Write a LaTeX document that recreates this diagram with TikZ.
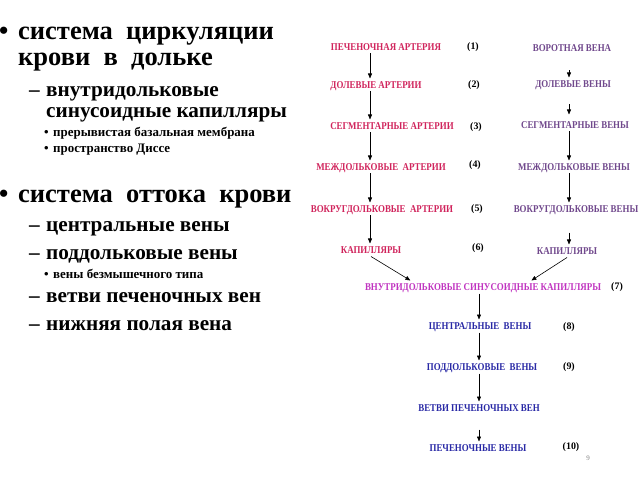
\documentclass[tikz,border=0pt]{standalone}
\usepackage{fontspec}
\setmainfont{Liberation Serif}
\newfontfamily\diagfont[FakeStretch=0.85]{Liberation Serif}
\usetikzlibrary{arrows.meta,calc}
\definecolor{artc}{RGB}{208,36,92}
\definecolor{venc}{RGB}{112,72,140}
\definecolor{sinc}{RGB}{192,52,192}
\definecolor{outc}{RGB}{40,40,165}
\begin{document}
\begin{tikzpicture}[x=1bp,y=-1bp,
  big/.style={anchor=base west,inner sep=0,font=\fontsize{26.6}{26.6}\selectfont\bfseries},
  mid/.style={anchor=base west,inner sep=0,font=\fontsize{21.3}{21.3}\selectfont\bfseries},
  sml/.style={anchor=base west,inner sep=0,font=\fontsize{13}{13}\selectfont\bfseries},
  lab/.style={inner sep=0,outer sep=3bp,text height=7bp,text depth=0bp,font=\diagfont\fontsize{10.5}{10.5}\selectfont\bfseries},
  num/.style={inner sep=0,font=\fontsize{10}{10}\selectfont\bfseries},
  arr/.style={draw=black,line width=0.6bp,-{Triangle[length=5bp,width=4bp]}}]
\useasboundingbox (0,0) rectangle (640,480);
% left text
\node[big] (b1) at (-1,40) {•};
\node[big] (t1) at (18,40) {система\ \ циркуляции};
\node[big] (t2) at (18,66) {крови\ \ в\ \ дольке};
\node[mid] (d1) at (29,97) {–};
\node[mid] (t3) at (46,97) {внутридольковые};
\node[mid] (t4) at (46,118) {синусоидные капилляры};
\node[sml] (s1) at (44,137) {•};
\node[sml] (t5) at (53,137) {прерывистая базальная мембрана};
\node[sml] (s2) at (44,153) {•};
\node[sml] (t6) at (53,153) {пространство Диссе};
\node[big] (b2) at (-1,203) {•};
\node[big] (t7) at (18,203) {система\ \ оттока\ \ крови};
\node[mid] (d2) at (29,232) {–};
\node[mid] (t8) at (46,232) {центральные вены};
\node[mid] (d3) at (29,259) {–};
\node[mid] (t9) at (46,259) {поддольковые вены};
\node[sml] (s3) at (44,278) {•};
\node[sml] (t10) at (53,278) {вены безмышечного типа};
\node[mid] (d4) at (29,302) {–};
\node[mid] (t11) at (46,302) {ветви печеночных вен};
\node[mid] (d5) at (29,330) {–};
\node[mid] (t12) at (46,330) {нижняя полая вена};
% diagram: left column
\node[lab,text=artc] (a1) at (386,47) {ПЕЧЕНОЧНАЯ АРТЕРИЯ};
\node[lab,text=artc] (a2) at (376,85) {ДОЛЕВЫЕ АРТЕРИИ};
\node[lab,text=artc] (a3) at (392,126) {СЕГМЕНТАРНЫЕ АРТЕРИИ};
\node[lab,text=artc] (a4) at (381,167) {МЕЖДОЛЬКОВЫЕ\ \ АРТЕРИИ};
\node[lab,text=artc] (a5) at (382,209) {ВОКРУГДОЛЬКОВЫЕ\ \ АРТЕРИИ};
\node[lab,text=artc] (a6) at (371,250) {КАПИЛЛЯРЫ};
% right column
\node[lab,text=venc] (v1) at (572,48) {ВОРОТНАЯ ВЕНА};
\node[lab,text=venc] (v2) at (573,84) {ДОЛЕВЫЕ ВЕНЫ};
\node[lab,text=venc] (v3) at (575,125) {СЕГМЕНТАРНЫЕ ВЕНЫ};
\node[lab,text=venc] (v4) at (574,167) {МЕЖДОЛЬКОВЫЕ ВЕНЫ};
\node[lab,text=venc] (v5) at (576,209) {ВОКРУГДОЛЬКОВЫЕ ВЕНЫ};
\node[lab,text=venc] (v6) at (567,251) {КАПИЛЛЯРЫ};
% centre
\node[lab,text=sinc] (sin) at (483,287) {ВНУТРИДОЛЬКОВЫЕ СИНУСОИДНЫЕ КАПИЛЛЯРЫ};
\node[lab,text=outc] (o1) at (480,326) {ЦЕНТРАЛЬНЫЕ\ \ ВЕНЫ};
\node[lab,text=outc] (o2) at (482,367) {ПОДДОЛЬКОВЫЕ\ \ ВЕНЫ};
\node[lab,text=outc] (o3) at (479,408) {ВЕТВИ ПЕЧЕНОЧНЫХ ВЕН};
\node[lab,text=outc] (o4) at (478,448) {ПЕЧЕНОЧНЫЕ ВЕНЫ};
% numbers
\node[num] (n1) at (473,47) {(1)};
\node[num] (n2) at (474,85) {(2)};
\node[num] (n3) at (476,127) {(3)};
\node[num] (n4) at (475,165) {(4)};
\node[num] (n5) at (477,209) {(5)};
\node[num] (n6) at (478,248) {(6)};
\node[num] (n7) at (617,287) {(7)};
\node[num] (n8) at (569,327) {(8)};
\node[num] (n9) at (569,367) {(9)};
\node[num] (n10) at (571,447) {(10)};
\node[inner sep=0,text=gray,font=\fontsize{7}{7}\selectfont] (pg) at (588,458) {9};
% arrow columns
\coordinate (cl) at (370,0);
\coordinate (cr) at (569,0);
\coordinate (cc) at (479,0);
\draw[arr] (a1.south -| cl) -- (a2.north -| cl);
\draw[arr] (a2.south -| cl) -- (a3.north -| cl);
\draw[arr] (a3.south -| cl) -- (a4.north -| cl);
\draw[arr] (a4.south -| cl) -- (a5.north -| cl);
\draw[arr] (a5.south -| cl) -- (a6.north -| cl);
\draw[arr,shorten <=16bp] (v1.south -| cr) -- (v2.north -| cr);
\draw[arr,shorten <=14bp,shorten >=4bp] (v2.south -| cr) -- (v3.north -| cr);
\draw[arr] (v3.south -| cr) -- (v4.north -| cr);
\draw[arr] (v4.south -| cr) -- (v5.north -| cr);
\draw[arr,shorten <=17bp] (v5.south -| cr) -- (v6.north -| cr);
\draw[arr] (a6.south) -- ($(sin.north west)!0.2!(sin.north east)$);
\draw[arr] (v6.south) -- ($(sin.north west)!0.7!(sin.north east)$);
\draw[arr] (sin.south -| cc) -- (o1.north -| cc);
\draw[arr] (o1.south -| cc) -- (o2.north -| cc);
\draw[arr] (o2.south -| cc) -- (o3.north -| cc);
\draw[arr,shorten <=15bp] (o3.south -| cc) -- (o4.north -| cc);
\end{tikzpicture}
\end{document}
